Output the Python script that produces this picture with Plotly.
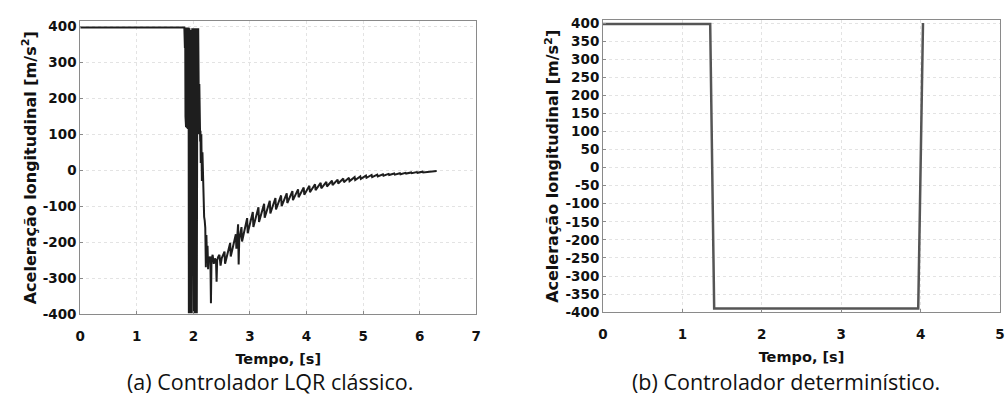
import plotly.graph_objects as go

# (a) Classic LQR controller: longitudinal acceleration vs time
t_lqr = [
    0.00, 1.84, 1.85, 1.855, 1.86, 1.865, 1.87, 1.875, 1.88, 1.885, 1.89,
    1.895, 1.90, 1.905, 1.91, 1.915,
    1.92, 1.93, 1.94, 1.95, 1.96, 1.97, 1.98, 1.99,
    2.00, 2.01, 2.02, 2.03, 2.04, 2.05, 2.06, 2.07,
    2.08, 2.085, 2.09, 2.095, 2.10, 2.105, 2.11, 2.12, 2.125, 2.13, 2.14,
    2.15, 2.16, 2.17, 2.18,
    2.19, 2.20, 2.21, 2.22, 2.23, 2.24, 2.25, 2.26, 2.27, 2.28, 2.30,
    2.31, 2.32, 2.34, 2.36, 2.38, 2.40, 2.41, 2.42, 2.44, 2.46, 2.48, 2.50,
    2.55, 2.56, 2.65, 2.66, 2.75, 2.76, 2.79, 2.80, 2.81,
    2.85, 2.86, 2.95, 2.96, 3.05, 3.06, 3.15, 3.16, 3.25, 3.26,
    3.35, 3.36, 3.45, 3.46, 3.55, 3.56, 3.65, 3.66, 3.75, 3.76,
    3.85, 3.86, 3.95, 3.96, 4.05, 4.06, 4.15, 4.16, 4.25, 4.26,
    4.35, 4.36, 4.45, 4.46, 4.55, 4.56, 4.65, 4.66, 4.75, 4.76,
    4.85, 4.86, 4.95, 4.96, 5.05, 5.06, 5.15, 5.16, 5.25, 5.26,
    5.35, 5.36, 5.45, 5.46, 5.55, 5.56, 5.65, 5.66, 5.75, 5.76,
    5.85, 5.86, 5.95, 5.96, 6.05, 6.06, 6.15, 6.16, 6.30,
]
a_lqr = [
    397, 397, 340, 397, 150, 397, 120, 397, 125, 397, 118,
    397, 115, 397, 120, 397,
    -398, 395, -398, 390, -398, 385, 395, 290,
    -398, 395, -398, 395, -398, 395, -398, 395,
    100, 395, 105, 300, 100, 240, 100, 80, 110, 20, 100,
    -30, 50, -30, -30,
    -130, -140, -160, -270, -180, -250, -210, -275, -240, -255, -240,
    -370, -250, -235, -260, -245, -255, -310, -250, -240, -235, -265, -245,
    -226, -260, -202, -240, -178, -218, -150, -262, -195,
    -158, -198, -133, -175, -116, -158, -103, -144, -93, -132,
    -85, -120, -77, -109, -70, -100, -64, -91, -58, -83,
    -53, -75, -48, -68, -43, -61, -39, -55, -35, -50,
    -32, -45, -29, -41, -26, -37, -23, -33, -21, -30,
    -19, -27, -17, -24, -15, -21, -13, -19, -12, -17,
    -11, -15, -10, -13, -9, -12, -8, -11, -7, -9,
    -6, -8, -5, -7, -4, -6, -4, -5, -2,
]

# (b) Deterministic (bang-bang) controller
t_det = [0.00, 1.35, 1.40, 3.97, 4.03]
a_det = [397, 397, -390, -390, 400]

x_ticks_a = [0, 1, 2, 3, 4, 5, 6, 7]
y_ticks_a = [-400, -300, -200, -100, 0, 100, 200, 300, 400]
y_labels_a = ["-400", "-300", "-200", "-100", "0", "100", "200", "300", "400"]
x_ticks_b = [0, 1, 2, 3, 4, 5]
y_ticks_b = [-400, -350, -300, -250, -200, -150, -100, -50, 0,
             50, 100, 150, 200, 250, 300, 350, 400]
y_labels_b = ["-400", "-350", "-300", "-250", "-200", "-150", "-100", "-50", "0",
              "50", "100", "150", "200", "250", "300", "350", "400"]

caption_a = "(a) Controlador LQR clássico."
caption_b = "(b) Controlador determinístico."
x_title = "Tempo, [s]"
y_title = "Aceleração longitudinal [m/s<sup>2</sup>]"

W, H = 1007, 409

fig = go.Figure()
fig.add_trace(go.Scatter(x=t_lqr, y=a_lqr, mode="lines",
                         line=dict(color="#1e1e1e", width=2),
                         xaxis="x", yaxis="y", showlegend=False))
fig.add_trace(go.Scatter(x=t_det, y=a_det, mode="lines",
                         line=dict(color="#555555", width=2.5),
                         xaxis="x2", yaxis="y2", showlegend=False))

tick_font = dict(family="DejaVu Sans", size=13.5, color="#111", weight="bold")
xtitle_font = dict(family="DejaVu Sans", size=14.5, color="#111", weight="bold")
ytitle_font = dict(family="DejaVu Sans", size=16, color="#111", weight="bold")

axis_common = dict(
    showline=True, linecolor="#8a8a8a", linewidth=1, mirror=True,
    showgrid=True, gridcolor="#e3e3e3", griddash="dot", gridwidth=1,
    ticks="inside", ticklen=3, tickcolor="#8a8a8a",
    zeroline=False, tickfont=tick_font,
)

fig.update_layout(
    width=W, height=H,
    margin=dict(l=0, r=0, t=0, b=0),
    paper_bgcolor="white", plot_bgcolor="white",
    xaxis=dict(domain=[76 / W, 476 / W], range=[0, 7], tickvals=x_ticks_a,
               anchor="y", ticklabelstandoff=10,
               title=dict(text=x_title, font=xtitle_font, standoff=10),
               **axis_common),
    yaxis=dict(domain=[1 - 319 / H, 1 - 16 / H], range=[-400, 414],
               tickvals=y_ticks_a, ticktext=y_labels_a, anchor="x",
               title=dict(text=y_title, font=ytitle_font, standoff=2),
               **axis_common),
    xaxis2=dict(domain=[604 / W, 1005 / W], range=[0, 5], tickvals=x_ticks_b,
                anchor="y2", ticklabelstandoff=10,
                title=dict(text=x_title, font=xtitle_font, standoff=10),
                **axis_common),
    yaxis2=dict(domain=[1 - 317 / H, 1 - 15 / H], range=[-400, 407],
                tickvals=y_ticks_b, ticktext=y_labels_b, anchor="x2",
                title=dict(text=y_title, font=ytitle_font, standoff=2),
                **axis_common),
    annotations=[
        dict(text=caption_a, x=268 / W, y=1 - 389 / H, xref="paper", yref="paper",
             showarrow=False, xanchor="center", yanchor="middle",
             font=dict(family="Open Sans", size=21.5, color="#111")),
        dict(text=caption_b, x=789 / W, y=1 - 389 / H, xref="paper", yref="paper",
             showarrow=False, xanchor="center", yanchor="middle",
             font=dict(family="Open Sans", size=21.5, color="#111")),
    ],
)

fig.write_html("out.html")
